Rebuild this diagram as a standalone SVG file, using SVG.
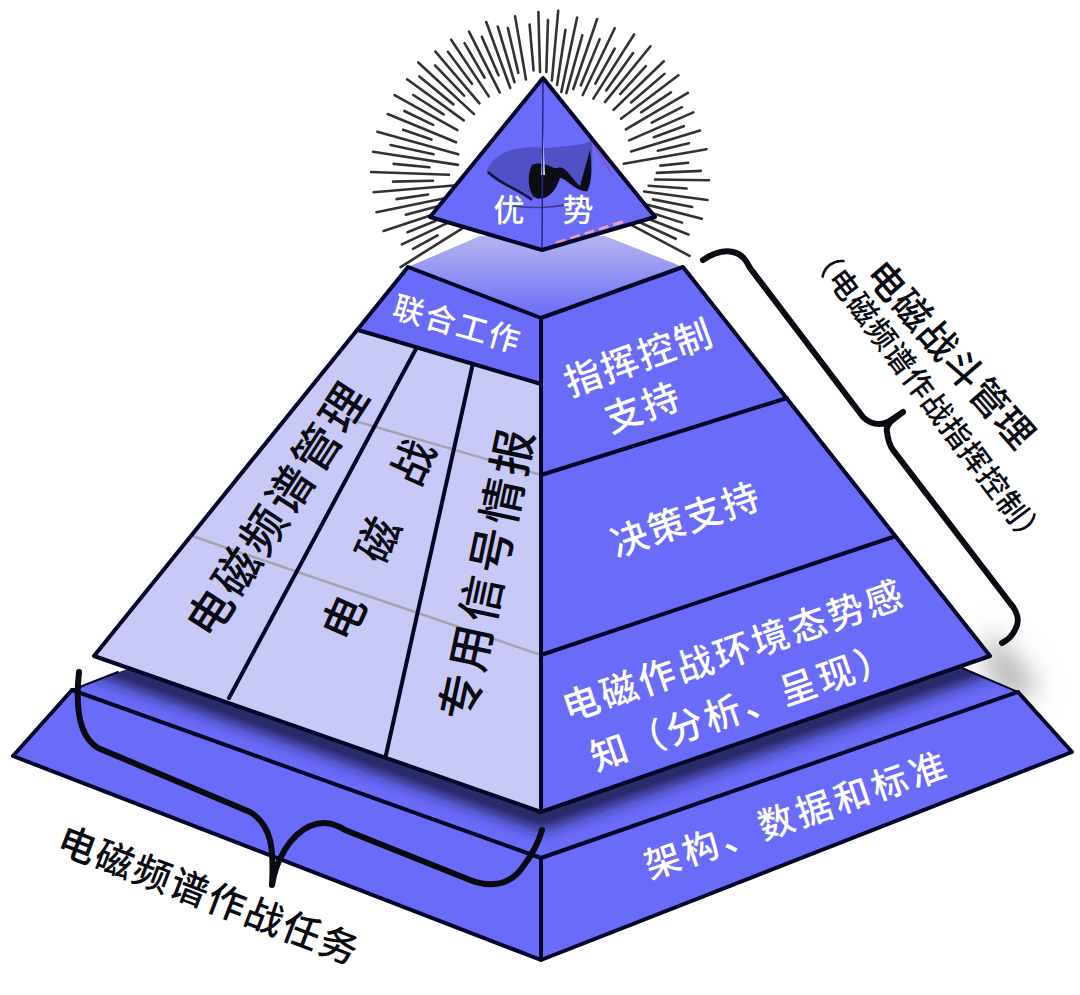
<svg xmlns="http://www.w3.org/2000/svg" width="1080" height="995" viewBox="0 0 1080 995">
<style>
.t{font-family:"Noto Sans CJK SC","Noto Sans",sans-serif;text-anchor:middle;dominant-baseline:central;font-weight:500}
.w{fill:#fff}.k{fill:#0a0a12}
.f{fill:#6b6bfa}.l{fill:#c9c9f8}
.e{fill:none;stroke:#050528;stroke-width:4;stroke-linejoin:round;stroke-linecap:round}
.g{fill:none;stroke:#a4a4ae;stroke-width:2.5}
.b{fill:none;stroke:#0a0a12;stroke-width:6;stroke-linecap:round;stroke-linejoin:round}
#rays path{fill:none;stroke:#333;stroke-width:2.6;stroke-linecap:round}
</style>
<defs>
<filter id="b10" x="-30%" y="-30%" width="160%" height="160%"><feGaussianBlur stdDeviation="8"/></filter>
<filter id="b20" x="-60%" y="-60%" width="220%" height="220%"><feGaussianBlur stdDeviation="14"/></filter>
<filter id="b1" x="-5%" y="-5%" width="110%" height="110%"><feGaussianBlur stdDeviation="0.6"/></filter>
<clipPath id="bt"><path d="M13 756L72 690L130 668H960L1018 692L1072 752L541 858Z"/></clipPath>
<linearGradient id="tf" x1="0" y1="0" x2="0" y2="1"><stop offset="0" stop-color="#b4b4f0"/><stop offset="0.5" stop-color="#9090f4"/><stop offset="1" stop-color="#6b6bfa"/></linearGradient>
</defs>
<rect width="1080" height="995" fill="#fff"/>
<g id="rays" filter="url(#b1)">
<path d="M543 88V10" transform="rotate(-122 543 178)"/>
<path d="M543 58V30" transform="rotate(-118.6 543 178)"/>
<path d="M543 88V22" transform="rotate(-115.2 543 178)"/>
<path d="M543 62V32" transform="rotate(-111.8 543 178)"/>
<path d="M543 88V10" transform="rotate(-108.4 543 178)"/>
<path d="M543 70V36" transform="rotate(-105 543 178)"/>
<path d="M543 80V8" transform="rotate(-101.6 543 178)"/>
<path d="M543 62V30" transform="rotate(-98.2 543 178)"/>
<path d="M543 100V8" transform="rotate(-94.8 543 178)"/>
<path d="M543 68V28" transform="rotate(-91.4 543 178)"/>
<path d="M543 84V6" transform="rotate(-88 543 178)"/>
<path d="M543 64V28" transform="rotate(-84.6 543 178)"/>
<path d="M543 92V6" transform="rotate(-81.2 543 178)"/>
<path d="M543 66V22" transform="rotate(-77.8 543 178)"/>
<path d="M543 90V6" transform="rotate(-74.4 543 178)"/>
<path d="M543 60V30" transform="rotate(-71 543 178)"/>
<path d="M543 84V10" transform="rotate(-67.6 543 178)"/>
<path d="M543 56V24" transform="rotate(-64.2 543 178)"/>
<path d="M543 80V8" transform="rotate(-60.8 543 178)"/>
<path d="M543 60V24" transform="rotate(-57.4 543 178)"/>
<path d="M543 80V10" transform="rotate(-54 543 178)"/>
<path d="M543 62V18" transform="rotate(-50.6 543 178)"/>
<path d="M543 84V8" transform="rotate(-47.2 543 178)"/>
<path d="M543 64V22" transform="rotate(-43.8 543 178)"/>
<path d="M543 80V12" transform="rotate(-40.4 543 178)"/>
<path d="M543 60V20" transform="rotate(-37 543 178)"/>
<path d="M543 80V12" transform="rotate(-33.6 543 178)"/>
<path d="M543 62V22" transform="rotate(-30.2 543 178)"/>
<path d="M543 82V14" transform="rotate(-26.8 543 178)"/>
<path d="M543 66V24" transform="rotate(-23.4 543 178)"/>
<path d="M543 82V12" transform="rotate(-20 543 178)"/>
<path d="M543 78V20" transform="rotate(-16.6 543 178)"/>
<path d="M543 70V24" transform="rotate(-13.2 543 178)"/>
<path d="M543 78V14" transform="rotate(-9.8 543 178)"/>
<path d="M543 70V24" transform="rotate(-5 543 178)"/>
<path d="M543 72V12" transform="rotate(-1.6 543 178)"/>
<path d="M543 72V20" transform="rotate(1.8 543 178)"/>
<path d="M543 80V10" transform="rotate(5.2 543 178)"/>
<path d="M543 84V28" transform="rotate(8.6 543 178)"/>
<path d="M543 90V14" transform="rotate(12 543 178)"/>
<path d="M543 90V30" transform="rotate(15.4 543 178)"/>
<path d="M543 84V10" transform="rotate(18.8 543 178)"/>
<path d="M543 78V28" transform="rotate(22.2 543 178)"/>
<path d="M543 86V12" transform="rotate(25.6 543 178)"/>
<path d="M543 70V30" transform="rotate(29 543 178)"/>
<path d="M543 84V8" transform="rotate(32.4 543 178)"/>
<path d="M543 70V24" transform="rotate(35.8 543 178)"/>
<path d="M543 80V8" transform="rotate(39.2 543 178)"/>
<path d="M543 64V26" transform="rotate(42.6 543 178)"/>
<path d="M543 80V10" transform="rotate(46 543 178)"/>
<path d="M543 62V18" transform="rotate(49.4 543 178)"/>
<path d="M543 80V8" transform="rotate(52.8 543 178)"/>
<path d="M543 60V24" transform="rotate(56.2 543 178)"/>
<path d="M543 82V10" transform="rotate(59.6 543 178)"/>
<path d="M543 56V22" transform="rotate(63 543 178)"/>
<path d="M543 84V14" transform="rotate(66.4 543 178)"/>
<path d="M543 60V28" transform="rotate(69.8 543 178)"/>
<path d="M543 86V14" transform="rotate(73.2 543 178)"/>
<path d="M543 60V28" transform="rotate(76.6 543 178)"/>
<path d="M543 96V12" transform="rotate(80 543 178)"/>
<path d="M543 60V32" transform="rotate(84 543 178)"/>
<path d="M543 64V20" transform="rotate(87.4 543 178)"/>
<path d="M543 66V12" transform="rotate(90.8 543 178)"/>
<path d="M543 72V34" transform="rotate(94.2 543 178)"/>
<path d="M543 76V12" transform="rotate(97.6 543 178)"/>
<path d="M543 66V26" transform="rotate(101 543 178)"/>
<path d="M543 84V14" transform="rotate(104.4 543 178)"/>
<path d="M543 72V32" transform="rotate(107.8 543 178)"/>
<path d="M543 88V22" transform="rotate(111.2 543 178)"/>
<path d="M543 92V32" transform="rotate(114.6 543 178)"/>
<path d="M543 100V12" transform="rotate(118 543 178)"/>
</g>
<g id="base">
<path d="M990 630L1040 690L1005 700L985 660Z" fill="#aaa" filter="url(#b20)"/>
<path class="f" d="M13 756L72 690L130 668H960L1018 692L1072 752L541 960Z"/>
<g clip-path="url(#bt)"><path d="M94 662L541 818L990 662" fill="none" stroke="#1c1c50" stroke-width="22" filter="url(#b10)"/></g>
<path class="e" d="M72 690L13 756L541 960L1072 752L1018 692"/>
<path class="e" d="M72 690L541 858L1018 692M541 858V960"/>
<path class="e" style="stroke-width:2" d="M72 690L118 672M962 668L1018 692"/>
</g>
<g id="pyramid-top-face">
<path d="M408 267L480 236H605L683 267L541 318Z" fill="url(#tf)"/>
</g>
<g id="left-face">
<path class="l" d="M358 330L541 384V812L94 656Z"/>
<path class="g" d="M345 418L541 475M192 536L541 655"/>
<path class="e" d="M417 347L229 698M473 363L386 755"/>
</g>
<g id="joint-band">
<path class="f" d="M408 267L541 318V384L358 330Z"/>
<path class="e" d="M358 330L541 384"/>
</g>
<g id="right-face">
<path class="f" d="M541 318L683 267L990 656L541 812Z"/>
<path class="e" d="M541 475L787 398M541 655L893 537"/>
</g>
<g id="pyramid-outline">
<path class="e" d="M408 267L94 656L541 812L990 656L683 267L541 318L408 267M541 318V812"/>
</g>
<g id="apex">
<path class="f" d="M543 78L430 217L542 250L655 217Z"/>
<g filter="url(#b1)">
<path d="M486 172C495 150 520 145 545 148C565 146 585 146 592 140C593 160 592 180 588 192C575 192 568 176 560 172C556 190 545 202 532 198C520 190 498 186 486 172Z" fill="#3a3a9c" opacity=".55"/>
<path d="M532 165C545 160 552 170 558 168C566 165 572 180 580 186L590 150C592 170 592 182 587 191C576 192 566 178 560 178C555 195 542 203 533 196C527 186 528 172 532 165Z" fill="#070716"/>
<path d="M488 172C500 184 520 190 532 200" fill="none" stroke="#14143c" stroke-width="2.5"/>
<path d="M505 204C530 210 560 208 585 200" fill="none" stroke="#3b3b80" stroke-width="1.5"/>
<path d="M543 130L545 175L541 175Z" fill="#dfe3ff"/>
<path d="M592 142L612 175" stroke="#8a4fd0" stroke-width="1.5"/>
</g>
<path d="M556 243L625 221" stroke="#e8a0b8" stroke-width="3" stroke-dasharray="10 5"/>
<path d="M543 78L542 250" stroke="#26268a" stroke-width="1.5"/>
<path class="e" d="M543 78L430 217L542 250L655 217Z"/>
</g>
<g id="labels">
<text class="t w" x="509" y="207" font-size="31">优</text>
<text class="t w" x="578" y="207" font-size="31">势</text>
<text class="t w" transform="translate(458 322) rotate(16)" font-size="31" letter-spacing="2">联合工作</text>
<text class="t w" transform="translate(638 355) rotate(-20)" font-size="37" letter-spacing="2">指挥控制</text>
<text class="t w" transform="translate(642 405) rotate(-20)" font-size="37" letter-spacing="2">支持</text>
<text class="t w" transform="translate(685 517) rotate(-19)" font-size="37" letter-spacing="2">决策支持</text>
<text class="t w" transform="translate(733 648) rotate(-19)" font-size="37" letter-spacing="3">电磁作战环境态势感</text>
<text class="t w" transform="translate(742 704) rotate(-19)" font-size="37" letter-spacing="3">知（分析、呈现）</text>
<text class="t w" transform="translate(796 812) rotate(-19)" font-size="36" letter-spacing="4">架构、数据和标准</text>
<text class="t k" transform="translate(275 507) rotate(-57)" font-size="46" letter-spacing="3">电磁频谱管理</text>
<text class="t k" transform="translate(384 520) rotate(-66)" font-size="44" letter-spacing="41">电磁战</text>
<text class="t k" transform="translate(484 572) rotate(-78)" font-size="46" letter-spacing="4">专用信号情报</text>
<text class="t k" transform="translate(210 893) rotate(21)" font-size="38" letter-spacing="2">电磁频谱作战任务</text>
<text class="t k" transform="translate(953 353) rotate(49)" font-size="38" letter-spacing="1">电磁战斗管理</text>
<text class="t k" transform="translate(930 395) rotate(53)" font-size="30" letter-spacing="1">（电磁频谱作战指挥控制）</text>
</g>
<g id="connectors">
<path class="b" d="M703 260C715 252 725 250 733 252C742 254 746 260 750 268L863 417C870 424 880 426 888 422L903 412C892 420 885 425 887 432C888 440 890 446 893 450L1010 603C1018 612 1020 622 1015 630C1012 636 1008 640 1002 643"/>
<path class="b" d="M79 672C76 700 76 735 98 748L250 812C272 825 274 850 272 885C276 860 290 835 310 826C325 820 335 824 345 830L470 880C490 888 510 885 522 868C532 855 538 845 542 830"/>
</g>
</svg>
